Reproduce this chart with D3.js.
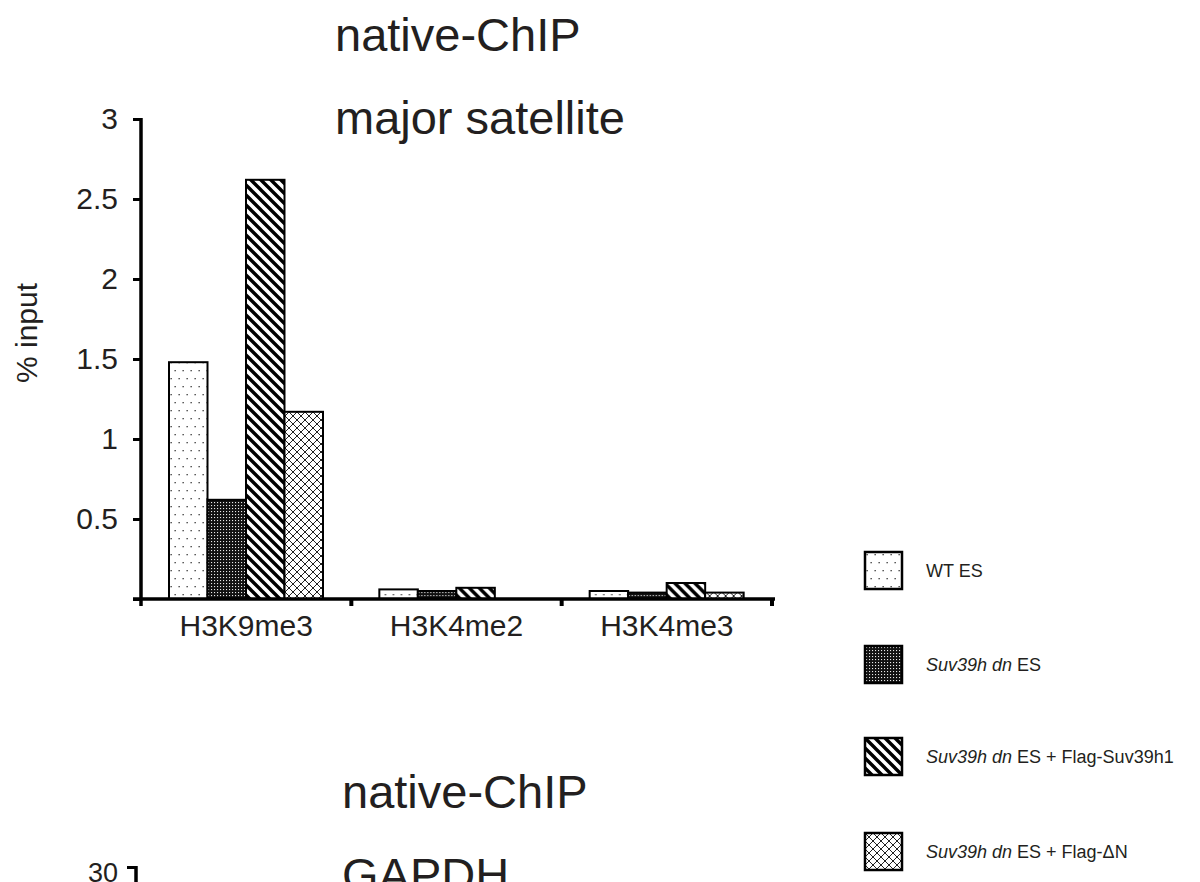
<!DOCTYPE html>
<html>
<head>
<meta charset="utf-8">
<script src="https://cdn.jsdelivr.net/npm/d3@7"></script>
<style>
  html, body { margin: 0; padding: 0; background: #fff; }
  svg { display: block; }
  text { font-family: "Liberation Sans", Arial, Helvetica, sans-serif; fill: #231f20; }
</style>
</head>
<body>
<svg id="chart" width="1200" height="882"></svg>
<script>
// Histone marks (x categories) and the four ES cell lines (series)
const categories = ["H3K9me3", "H3K4me2", "H3K4me3"];
const seriesNames = ["WT ES", "Suv39h dn ES", "Suv39h dn ES + Flag-Suv39h1", "Suv39h dn ES + Flag-\u0394N"];

// % input per histone mark, one array per cell line
const wtES         = [1.48, 0.06, 0.05];
const dnES         = [0.62, 0.05, 0.04];
const dnFlagSuv    = [2.62, 0.07, 0.10];
const dnFlagDeltaN = [1.17, 0.00, 0.04];

const yTicks = [0, 0.5, 1, 1.5, 2, 2.5, 3];
const gapdhTicks = [30];

const seriesValues = [wtES, dnES, dnFlagSuv, dnFlagDeltaN];

const svg = d3.select("#chart");

// ---- fill patterns ----
const defs = svg.append("defs");

// sparse staggered dots
const pDots = defs.append("pattern").attr("id", "pat0")
  .attr("patternUnits", "userSpaceOnUse").attr("width", 8).attr("height", 16);
pDots.append("rect").attr("width", 8).attr("height", 16).attr("fill", "#fff");
pDots.append("rect").attr("x", 1.5).attr("y", 2).attr("width", 1.3).attr("height", 1.3).attr("fill", "#333");
pDots.append("rect").attr("x", 5.5).attr("y", 10).attr("width", 1.3).attr("height", 1.3).attr("fill", "#333");

// dense dark with white dots
const pDark = defs.append("pattern").attr("id", "pat1")
  .attr("patternUnits", "userSpaceOnUse").attr("width", 3).attr("height", 3);
pDark.append("rect").attr("width", 3).attr("height", 3).attr("fill", "#111");
pDark.append("rect").attr("x", 1).attr("y", 1).attr("width", 1.1).attr("height", 1.1).attr("fill", "#e8e8e8");

// diagonal stripes "\\"
const pStripe = defs.append("pattern").attr("id", "pat2")
  .attr("patternUnits", "userSpaceOnUse").attr("width", 10).attr("height", 10);
pStripe.append("rect").attr("width", 10).attr("height", 10).attr("fill", "#fff");
pStripe.append("path").attr("d", "M-3,-3 L13,13 M-3,7 L3,13 M7,-3 L13,3")
  .attr("stroke", "#000").attr("stroke-width", 3.4);

// diamond cross-hatch
const pCross = defs.append("pattern").attr("id", "pat3")
  .attr("patternUnits", "userSpaceOnUse").attr("width", 8).attr("height", 8);
pCross.append("rect").attr("width", 8).attr("height", 8).attr("fill", "#fff");
pCross.append("path").attr("d", "M-1,-1 L9,9 M9,-1 L-1,9")
  .attr("stroke", "#222").attr("stroke-width", 1);

const fills = ["url(#pat0)", "url(#pat1)", "url(#pat2)", "url(#pat3)"];

// ---- scales ----
const x0 = d3.scaleBand().domain(categories).range([141, 772]);
const x1 = d3.scaleBand().domain(d3.range(seriesNames.length)).range([28, 182]);
const y = d3.scaleLinear().domain([0, 3]).range([599, 119]);

// ---- titles ----
const titleSize = 47;
svg.append("text").attr("x", 335).attr("y", 51).attr("font-size", titleSize).text("native-ChIP");
svg.append("text").attr("x", 335).attr("y", 134).attr("font-size", titleSize).text("major satellite");

// ---- bars ----
const groups = svg.append("g").selectAll("g")
  .data(categories).join("g")
  .attr("transform", d => `translate(${x0(d)},0)`);

groups.selectAll("rect")
  .data((c, ci) => seriesValues.map((vals, si) => ({ si, v: vals[ci] })).filter(d => d.v > 0))
  .join("rect")
  .attr("x", d => x1(d.si))
  .attr("width", x1.bandwidth())
  .attr("y", d => y(d.v))
  .attr("height", d => y(0) - y(d.v))
  .attr("fill", d => fills[d.si])
  .attr("stroke", "#000")
  .attr("stroke-width", 2);

// ---- y axis ----
const yAxis = svg.append("g").attr("transform", "translate(141,0)")
  .call(d3.axisLeft(y).tickValues(yTicks).tickSize(8).tickSizeOuter(0).tickPadding(15)
    .tickFormat(d => d === 0 ? "" : d3.format("")(d)));
yAxis.select(".domain").attr("stroke", "#000").attr("stroke-width", 3.5)
  .attr("d", `M0,${y(3) - 1}V${y(0) + 7}`);
yAxis.selectAll(".tick line").attr("stroke", "#000").attr("stroke-width", 3);
yAxis.selectAll(".tick text").attr("font-size", 30).attr("fill", "#231f20")
  .attr("font-family", "Liberation Sans, Arial, sans-serif");

svg.append("text")
  .attr("transform", "translate(37,333) rotate(-90)")
  .attr("text-anchor", "middle").attr("font-size", 30).text("% input");

// ---- x axis ----
const xAxis = svg.append("g").attr("transform", `translate(0,${y(0)})`)
  .call(d3.axisBottom(x0).tickSize(0).tickPadding(16));
xAxis.select(".domain").attr("stroke", "#000").attr("stroke-width", 3.5)
  .attr("d", `M133,0H${x0.range()[1] + 3}`);
xAxis.selectAll(".tick text").attr("font-size", 30).attr("fill", "#231f20")
  .attr("font-family", "Liberation Sans, Arial, sans-serif");
// band boundary ticks
const bounds = categories.map(c => x0(c)).concat([x0.range()[1]]);
xAxis.selectAll("line.bound").data(bounds.slice(1)).join("line")
  .attr("class", "bound")
  .attr("x1", d => d).attr("x2", d => d).attr("y1", 0).attr("y2", 7)
  .attr("stroke", "#000").attr("stroke-width", 4);

// ---- legend ----
const legendRows = [552, 646, 738, 833];
const legend = svg.append("g").selectAll("g")
  .data(seriesNames).join("g")
  .attr("transform", (d, i) => `translate(865,${legendRows[i]})`);
legend.append("rect")
  .attr("width", 37).attr("height", 37)
  .attr("fill", (d, i) => fills[i]).attr("stroke", "#000").attr("stroke-width", 2.5);
legend.append("text")
  .attr("x", 61).attr("y", 25).attr("font-size", 18)
  .each(function (d) {
    const t = d3.select(this);
    const m = d.match(/^(Suv39h dn)(.*)$/);
    if (m) {
      t.append("tspan").attr("font-style", "italic").text(m[1]);
      t.append("tspan").text(m[2]);
    } else {
      t.text(d);
    }
  });

// ---- second panel (GAPDH), continuing below ----
svg.append("text").attr("x", 342).attr("y", 808).attr("font-size", titleSize).text("native-ChIP");
svg.append("text").attr("x", 342).attr("y", 891).attr("font-size", titleSize).text("GAPDH");

const y2 = d3.scaleLinear().domain([0, 30]).range([1330, 867]);
const yAxis2 = svg.append("g").attr("transform", "translate(136,0)")
  .call(d3.axisLeft(y2).tickValues(gapdhTicks).tickSize(9).tickSizeOuter(0).tickPadding(9));
yAxis2.select(".domain").attr("stroke", "#000").attr("stroke-width", 3.5)
  .attr("d", `M0,${y2(30) - 1}V${y2(0)}`);
yAxis2.selectAll(".tick line").attr("stroke", "#000").attr("stroke-width", 3);
yAxis2.selectAll(".tick text").attr("font-size", 27).attr("fill", "#231f20")
  .attr("dy", "0.55em")
  .attr("font-family", "Liberation Sans, Arial, sans-serif");
</script>
</body>
</html>
